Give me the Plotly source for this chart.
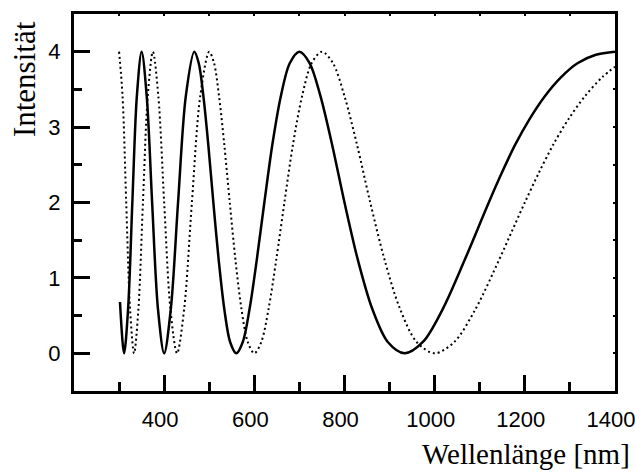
import plotly.graph_objects as go

# Wavelength (nm) and intensity samples for the two interference spectra
wl_solid = [302, 311.1, 320.0, 329.4, 339.4, 350.0, 361.3, 373.3, 386.2, 400.0,
            414.8, 430.8, 448.0, 466.7, 476.6, 487.0, 497.8, 509.1, 520.9, 533.3,
            546.3, 560.0, 574.4, 589.5, 605.4, 622.2, 640.0, 658.8, 678.8, 700.0,
            722.6, 746.7, 772.4, 800.0, 829.6, 861.5, 896.0, 933.3, 973.9, 1018.2,
            1066.7, 1120.0, 1148.7, 1178.9, 1210.8, 1244.4, 1280.0, 1317.6, 1357.6, 1400]
int_solid = [0.68, 0.0, 0.59, 2.0, 3.41, 4.0, 3.41, 2.0, 0.59, 0.0,
             0.59, 2.0, 3.41, 4.0, 3.85, 3.41, 2.77, 2.0, 1.24, 0.59,
             0.15, 0.0, 0.15, 0.59, 1.24, 2.0, 2.77, 3.41, 3.85, 4.0,
             3.85, 3.41, 2.77, 2.0, 1.24, 0.59, 0.15, 0.0, 0.15, 0.59,
             1.24, 2.0, 2.39, 2.77, 3.11, 3.41, 3.66, 3.85, 3.96, 4.0]

wl_dotted = [300.0, 307.7, 315.8, 324.3, 333.3, 342.9, 352.9, 363.6, 375.0, 387.1,
             400.0, 413.8, 428.6, 444.4, 461.5, 480.0, 500.0, 510.6, 521.7, 533.3,
             545.5, 558.1, 571.4, 585.4, 600.0, 615.4, 631.6, 648.6, 666.7, 685.7,
             705.9, 727.3, 750.0, 774.2, 800.0, 827.6, 857.1, 888.9, 923.1, 960.0,
             1000.0, 1043.5, 1090.9, 1142.9, 1170.7, 1200.0, 1230.8, 1263.2, 1297.3,
             1333.3, 1371.4, 1400]
int_dotted = [4.0, 3.41, 2.0, 0.59, 0.0, 0.59, 2.0, 3.41, 4.0, 3.41,
              2.0, 0.59, 0.0, 0.59, 2.0, 3.41, 4.0, 3.85, 3.41, 2.77,
              2.0, 1.24, 0.59, 0.15, 0.0, 0.15, 0.59, 1.24, 2.0, 2.77,
              3.41, 3.85, 4.0, 3.85, 3.41, 2.77, 2.0, 1.24, 0.59, 0.15,
              0.0, 0.15, 0.59, 1.24, 1.61, 2.0, 2.39, 2.77, 3.11,
              3.41, 3.66, 3.80]

x_ticks = [400, 600, 800, 1000, 1200, 1400]
x_minor = [300, 500, 700, 900, 1100, 1300]
y_ticks = [0, 1, 2, 3, 4]
y_minor = [0.5, 1.5, 2.5, 3.5]
x_top = [300, 400, 500, 600, 700, 800, 900, 1000, 1100, 1200, 1300]
y_right = [0, 0.5, 1, 1.5, 2, 2.5, 3, 3.5, 4]

fig = go.Figure()
fig.add_trace(go.Scatter(x=wl_dotted, y=int_dotted, mode="lines",
                         line=dict(color="black", width=2, dash="2px,3px",
                                   shape="spline", smoothing=0.9),
                         showlegend=False))
fig.add_trace(go.Scatter(x=wl_solid, y=int_solid, mode="lines",
                         line=dict(color="black", width=2.5,
                                   shape="spline", smoothing=0.9),
                         showlegend=False))

tickfont = dict(family="Liberation Sans, Arial, sans-serif", size=22, color="black")

fig.update_layout(
    width=635, height=472,
    margin=dict(l=74, r=19.5, t=14, b=81.3, autoexpand=False),
    paper_bgcolor="white", plot_bgcolor="white",
    xaxis=dict(range=[200, 1400], tickmode="array", tickvals=x_ticks,
               ticks="inside", ticklen=16, tickwidth=2.5, tickcolor="black",
               showline=True, linewidth=3, linecolor="black", mirror=True,
               showgrid=False, zeroline=False, tickfont=tickfont,
               ticklabelstandoff=7, ticklabelshift=-4, ticklabeloverflow="allow",
               automargin=False,
               minor=dict(tickmode="array", tickvals=x_minor, ticks="inside",
                          ticklen=9, tickwidth=2.5, tickcolor="black", showgrid=False)),
    yaxis=dict(range=[-0.5, 4.5], tickmode="array", tickvals=y_ticks,
               ticks="inside", ticklen=16, tickwidth=2.5, tickcolor="black",
               showline=True, linewidth=3, linecolor="black", mirror=True,
               showgrid=False, zeroline=False, tickfont=tickfont,
               ticklabelstandoff=6, ticklabeloverflow="allow", automargin=False,
               minor=dict(tickmode="array", tickvals=y_minor, ticks="inside",
                          ticklen=8, tickwidth=2.5, tickcolor="black", showgrid=False)),
    xaxis2=dict(range=[200, 1400], overlaying="x", side="top", tickmode="array",
                tickvals=x_top, ticks="inside", ticklen=2, tickwidth=1.5,
                tickcolor="black", showticklabels=False, showgrid=False,
                zeroline=False, showline=False, automargin=False),
    yaxis2=dict(range=[-0.5, 4.5], overlaying="y", side="right", tickmode="array",
                tickvals=y_right, ticks="inside", ticklen=2, tickwidth=1.5,
                tickcolor="black", showticklabels=False, showgrid=False,
                zeroline=False, showline=False, automargin=False),
)

# invisible trace to activate the mirrored tick axes
fig.add_trace(go.Scatter(x=[None], y=[None], xaxis="x2", yaxis="y2",
                         showlegend=False, hoverinfo="skip"))

titlefont = dict(family="Liberation Serif, Times New Roman, serif", size=31, color="black")
fig.add_annotation(text="Intensität", xref="paper", yref="paper",
                   x=-0.0923, y=0.8275, xanchor="center", yanchor="middle",
                   textangle=-90, showarrow=False, font=titlefont)
fig.add_annotation(text="Wellenlänge [nm]", xref="paper", yref="paper",
                   x=1.0305, y=-0.167, xanchor="right", yanchor="middle",
                   showarrow=False, font=dict(titlefont, size=29))

fig.write_html("out.html")
